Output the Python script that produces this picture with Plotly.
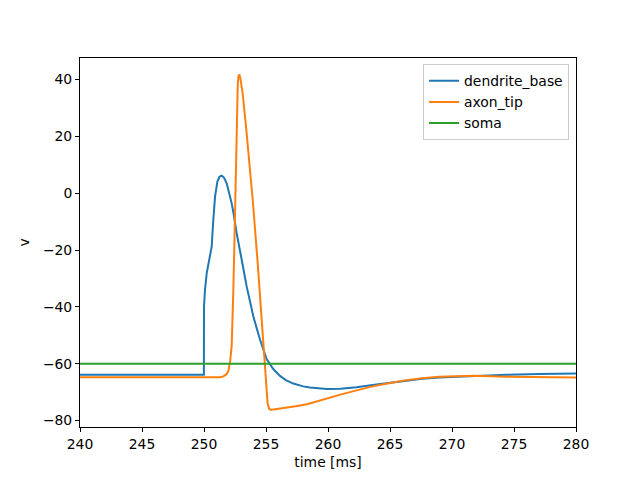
import plotly.graph_objects as go

# dendrite_base trace
t_dend = [240.0, 249.99, 250.0, 250.08, 250.22, 250.43, 250.62, 250.75, 250.89, 251.08, 251.25, 251.42,
          251.6, 251.83, 252.0, 252.23, 252.4, 252.63, 253.04, 253.44, 253.98, 254.52, 255.05, 255.3,
          255.6, 256.13, 256.6, 257.2, 258.0, 258.55, 259.9, 261.0, 262.3, 263.6, 265.0, 266.3,
          267.6, 269.0, 271.7, 274.4, 277.0, 280.0]
v_dend = [-63.9, -63.9, -40.0, -34.0, -28.1, -23.4, -18.8, -9.4, -1.2, 4.1, 5.8, 6.2,
          5.6, 3.5, 0.8, -3.5, -7.5, -14.0, -23.4, -32.8, -43.4, -51.6, -58.4, -60.2,
          -62.0, -64.3, -65.8, -67.0, -68.0, -68.4, -68.9, -68.8, -68.3, -67.5, -66.7, -65.9,
          -65.3, -64.9, -64.3, -63.9, -63.6, -63.5]

# axon_tip trace
t_axon = [240.0, 251.3, 251.56, 251.8, 251.96, 252.1, 252.23, 252.3, 252.36, 252.45, 252.5, 252.55,
          252.6, 252.66, 252.72, 252.78, 252.85, 252.93, 253.12, 253.39, 253.65, 253.93,
          254.33, 254.6, 254.87, 255.0, 255.13, 255.25, 255.4, 255.6, 256.5, 257.4, 258.3, 259.6,
          261.0, 262.3, 263.6, 265.0, 266.3, 267.6, 269.0, 271.7, 274.4, 280.0]
v_axon = [-64.8, -64.8, -64.5, -63.8, -62.7, -59.5, -53.9, -46.0, -35.1, -18.0, -8.0, 5.0,
          18.0, 30.0, 38.0, 41.2, 41.8, 40.5, 35.1, 23.4, 11.7, -2.4,
          -24.6, -42.2, -59.8, -68.5, -74.0, -75.9, -76.3, -76.1, -75.6, -75.0, -74.3, -72.6,
          -70.9, -69.4, -68.0, -66.8, -65.8, -65.1, -64.6, -64.3, -64.6, -64.9]

# soma trace
t_soma = [240.0, 280.0]
v_soma = [-60.0, -60.0]

x_ticks = [240, 245, 250, 255, 260, 265, 270, 275, 280]
y_ticks = [-80, -60, -40, -20, 0, 20, 40]
y_tick_labels = ["\u221280", "\u221260", "\u221240", "\u221220", "0", "20", "40"]

FONT = "DejaVu Sans"
FS = 13.9

fig = go.Figure()
fig.add_trace(go.Scatter(x=t_dend, y=v_dend, mode="lines", name="dendrite_base",
                         line=dict(color="#1f77b4", width=2)))
fig.add_trace(go.Scatter(x=t_axon, y=v_axon, mode="lines", name="axon_tip",
                         line=dict(color="#ff7f0e", width=2)))
fig.add_trace(go.Scatter(x=t_soma, y=v_soma, mode="lines", name="soma",
                         line=dict(color="#2ca02c", width=2)))

axis_common = dict(showgrid=False, zeroline=False, showline=True, linecolor="black", linewidth=1,
                   mirror=True, ticks="outside", ticklen=4, tickwidth=1, tickcolor="black",
                   tickfont=dict(family=FONT, size=FS, color="black"))

fig.update_layout(
    width=640, height=480,
    margin=dict(l=80, r=64, t=58, b=53, pad=0),
    paper_bgcolor="white", plot_bgcolor="white",
    font=dict(family=FONT, size=FS, color="black"),
    xaxis=dict(range=[240, 280], tickvals=x_ticks,
               title=dict(text="time [ms]", font=dict(family=FONT, size=FS), standoff=6),
               **axis_common),
    yaxis=dict(range=[-82.3, 47.6], tickvals=y_ticks, ticktext=y_tick_labels,
               title=dict(text="v", font=dict(family=FONT, size=FS), standoff=10),
               **axis_common),
    legend=dict(x=0.986, y=0.983, xanchor="right", yanchor="top",
                bgcolor="rgba(255,255,255,0.8)", bordercolor="#cccccc", borderwidth=1,
                font=dict(family=FONT, size=FS)),
    showlegend=True,
)

fig.write_html("out.html", config={"displayModeBar": False},
               post_script="document.body.style.margin='0px';")
